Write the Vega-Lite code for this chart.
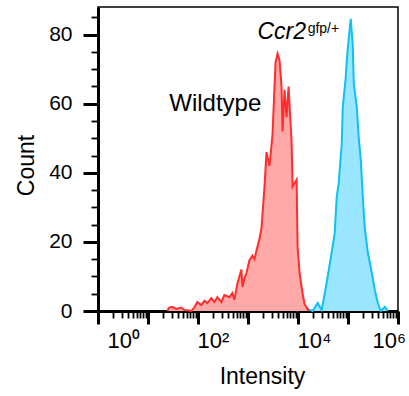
{
  "$schema": "https://vega.github.io/schema/vega-lite/v6.json",
  "autosize": {"type": "none"},
  "padding": {"left": 98, "top": 7, "right": 11, "bottom": 85},
  "width": 300,
  "height": 304,
  "datasets": {
    "wildtype": [
      {"intensity": 24.2, "count": 0}, {"intensity": 26.6, "count": 1}, {"intensity": 30.5, "count": 1.2},
      {"intensity": 36.7, "count": 0.6}, {"intensity": 46.2, "count": 1}, {"intensity": 53.1, "count": 0.3},
      {"intensity": 73.4, "count": 0}, {"intensity": 84.3, "count": 1}, {"intensity": 96.8, "count": 2.6},
      {"intensity": 116, "count": 1.7}, {"intensity": 134, "count": 3}, {"intensity": 154, "count": 2.3},
      {"intensity": 185, "count": 3.7}, {"intensity": 212, "count": 2.6}, {"intensity": 244, "count": 4},
      {"intensity": 293, "count": 2.6}, {"intensity": 337, "count": 4.6}, {"intensity": 424, "count": 4},
      {"intensity": 488, "count": 5.2}, {"intensity": 535, "count": 3.2}, {"intensity": 614, "count": 8},
      {"intensity": 739, "count": 12}, {"intensity": 774, "count": 7}, {"intensity": 849, "count": 9.5},
      {"intensity": 931, "count": 11}, {"intensity": 1069, "count": 14.7}, {"intensity": 1228, "count": 16},
      {"intensity": 1347, "count": 15}, {"intensity": 1477, "count": 17.5}, {"intensity": 1698, "count": 21},
      {"intensity": 1862, "count": 24}, {"intensity": 1950, "count": 28}, {"intensity": 2138, "count": 36},
      {"intensity": 2344, "count": 46}, {"intensity": 2692, "count": 42}, {"intensity": 3090, "count": 51},
      {"intensity": 3556, "count": 72}, {"intensity": 3899, "count": 74.5}, {"intensity": 4276, "count": 72.5},
      {"intensity": 4688, "count": 65}, {"intensity": 4909, "count": 52}, {"intensity": 5383, "count": 64},
      {"intensity": 5902, "count": 56}, {"intensity": 6471, "count": 65}, {"intensity": 7447, "count": 49},
      {"intensity": 7798, "count": 36}, {"intensity": 9376, "count": 38}, {"intensity": 9817, "count": 18.5},
      {"intensity": 10765, "count": 11}, {"intensity": 12370, "count": 5}, {"intensity": 13560, "count": 2},
      {"intensity": 14870, "count": 1}, {"intensity": 16330, "count": 0}
    ],
    "ccr2": [
      {"intensity": 9376, "count": 0}, {"intensity": 10765, "count": 0.5}, {"intensity": 12940, "count": 1.5},
      {"intensity": 14870, "count": 1}, {"intensity": 17100, "count": 0.3}, {"intensity": 19630, "count": 0},
      {"intensity": 24720, "count": 2.3}, {"intensity": 29720, "count": 0.3}, {"intensity": 34200, "count": 5},
      {"intensity": 39260, "count": 10}, {"intensity": 47210, "count": 17}, {"intensity": 54200, "count": 22.5},
      {"intensity": 59430, "count": 33}, {"intensity": 65160, "count": 37}, {"intensity": 74990, "count": 48.5},
      {"intensity": 78520, "count": 59}, {"intensity": 90150, "count": 67.6}, {"intensity": 94410, "count": 72.5},
      {"intensity": 103500, "count": 79}, {"intensity": 113500, "count": 84.6}, {"intensity": 124500, "count": 77},
      {"intensity": 130400, "count": 66}, {"intensity": 149900, "count": 59}, {"intensity": 164400, "count": 50},
      {"intensity": 180300, "count": 43.6}, {"intensity": 197700, "count": 33}, {"intensity": 216800, "count": 24},
      {"intensity": 248900, "count": 17}, {"intensity": 299300, "count": 11}, {"intensity": 344400, "count": 6},
      {"intensity": 395400, "count": 2.3}, {"intensity": 453900, "count": 0}, {"intensity": 545800, "count": 1.2},
      {"intensity": 626800, "count": 0}
    ],
    "notes": [
      {"intensity": 26.6, "count": 58, "label": "Wildtype", "kind": "plain"},
      {"intensity": 1549, "count": 78.6, "label": "Ccr2", "kind": "italic"},
      {"intensity": 15590, "count": 80.4, "label": "gfp/+", "kind": "sup"}
    ]
  },
  "layer": [
    {
      "data": {"name": "ccr2"},
      "mark": {"type": "area", "fill": "#9AE5FF", "fillOpacity": 1, "line": {"color": "#0FC0F2", "strokeWidth": 2}},
      "encoding": {
        "x": {"field": "intensity", "type": "quantitative",
          "scale": {"type": "log", "domain": [1, 1000000], "nice": false},
          "axis": {"orient": "bottom", "values": [2,3,4,5,6,7,8,9,20,30,40,50,60,70,80,90,200,300,400,500,600,700,800,900,2000,3000,4000,5000,6000,7000,8000,9000,20000,30000,40000,50000,60000,70000,80000,90000,200000,300000,400000,500000,600000,700000,800000,900000],
            "labels": false, "domain": false, "title": null, "grid": false, "tickSize": 7, "tickWidth": 1.8, "tickColor": "black"}},
        "y": {"field": "count", "type": "quantitative",
          "scale": {"domain": [0, 88], "nice": false},
          "axis": {"orient": "left", "values": [5,10,15,25,30,35,45,50,55,65,70,75,85],
            "labels": false, "domain": false, "title": null, "grid": false, "tickSize": 7, "tickWidth": 1.8, "tickColor": "black"}}
      }
    },
    {
      "data": {"name": "wildtype"},
      "mark": {"type": "area", "fill": "#FFA8A8", "fillOpacity": 1, "line": {"color": "#FF2E2E", "strokeWidth": 2}},
      "encoding": {
        "x": {"field": "intensity", "type": "quantitative",
          "scale": {"type": "log", "domain": [1, 1000000], "nice": false},
          "axis": {"orient": "bottom", "values": [1,10,100,1000,10000,100000,1000000],
            "labelExpr": "datum.value == 1 ? '10⁰' : datum.value == 100 ? '10²' : datum.value == 10000 ? '10⁴' : datum.value == 1000000 ? '10⁶' : ''",
            "labelFlush": false, "labelAlign": "left", "labelFontSize": 22, "labelPadding": 6,
            "labelOffset": {"condition": [{"test": "datum.value <= 1", "value": 9}, {"test": "datum.value >= 1000000", "value": -26}], "value": -1},
            "domainWidth": 3, "domainColor": "black", "tickSize": 13, "tickWidth": 3, "tickColor": "black", "grid": false,
            "title": "Intensity", "titleFontSize": 23, "titleFontWeight": "normal", "titleX": 164, "titleY": 72,
            "titleAlign": "center", "titleBaseline": "alphabetic"}},
        "y": {"field": "count", "type": "quantitative",
          "scale": {"domain": [0, 88], "nice": false},
          "axis": {"orient": "left", "values": [0, 20, 40, 60, 80], "labelFontSize": 21, "labelPadding": 11,
            "domainWidth": 3, "domainColor": "black", "tickSize": 15, "tickWidth": 3, "tickColor": "black", "grid": false,
            "title": "Count", "titleFontSize": 23, "titleFontWeight": "normal", "titleX": -65, "titleY": 158,
            "titleAlign": "center", "titleBaseline": "alphabetic", "titleAngle": -90}}
      }
    },
    {
      "data": {"name": "notes"},
      "transform": [{"filter": "datum.kind == 'plain'"}],
      "mark": {"type": "text", "align": "left", "baseline": "alphabetic", "fontSize": 24, "color": "black"},
      "encoding": {
        "x": {"field": "intensity", "type": "quantitative", "scale": {"type": "log", "domain": [1, 1000000], "nice": false}, "axis": null},
        "y": {"field": "count", "type": "quantitative", "scale": {"domain": [0, 88], "nice": false}, "axis": null},
        "text": {"field": "label"}
      }
    },
    {
      "data": {"name": "notes"},
      "transform": [{"filter": "datum.kind == 'italic'"}],
      "mark": {"type": "text", "align": "left", "baseline": "alphabetic", "fontSize": 23, "fontStyle": "italic", "color": "black"},
      "encoding": {
        "x": {"field": "intensity", "type": "quantitative", "scale": {"type": "log", "domain": [1, 1000000], "nice": false}, "axis": null},
        "y": {"field": "count", "type": "quantitative", "scale": {"domain": [0, 88], "nice": false}, "axis": null},
        "text": {"field": "label"}
      }
    },
    {
      "data": {"name": "notes"},
      "transform": [{"filter": "datum.kind == 'sup'"}],
      "mark": {"type": "text", "align": "left", "baseline": "alphabetic", "fontSize": 14, "color": "black"},
      "encoding": {
        "x": {"field": "intensity", "type": "quantitative", "scale": {"type": "log", "domain": [1, 1000000], "nice": false}, "axis": null},
        "y": {"field": "count", "type": "quantitative", "scale": {"domain": [0, 88], "nice": false}, "axis": null},
        "text": {"field": "label"}
      }
    }
  ],
  "resolve": {"axis": {"x": "independent", "y": "independent"}},
  "config": {
    "font": "Liberation Sans",
    "view": {"stroke": "black", "strokeWidth": 1.5},
    "axis": {"labelColor": "black", "titleColor": "black", "grid": false},
    "background": "white"
  }
}
